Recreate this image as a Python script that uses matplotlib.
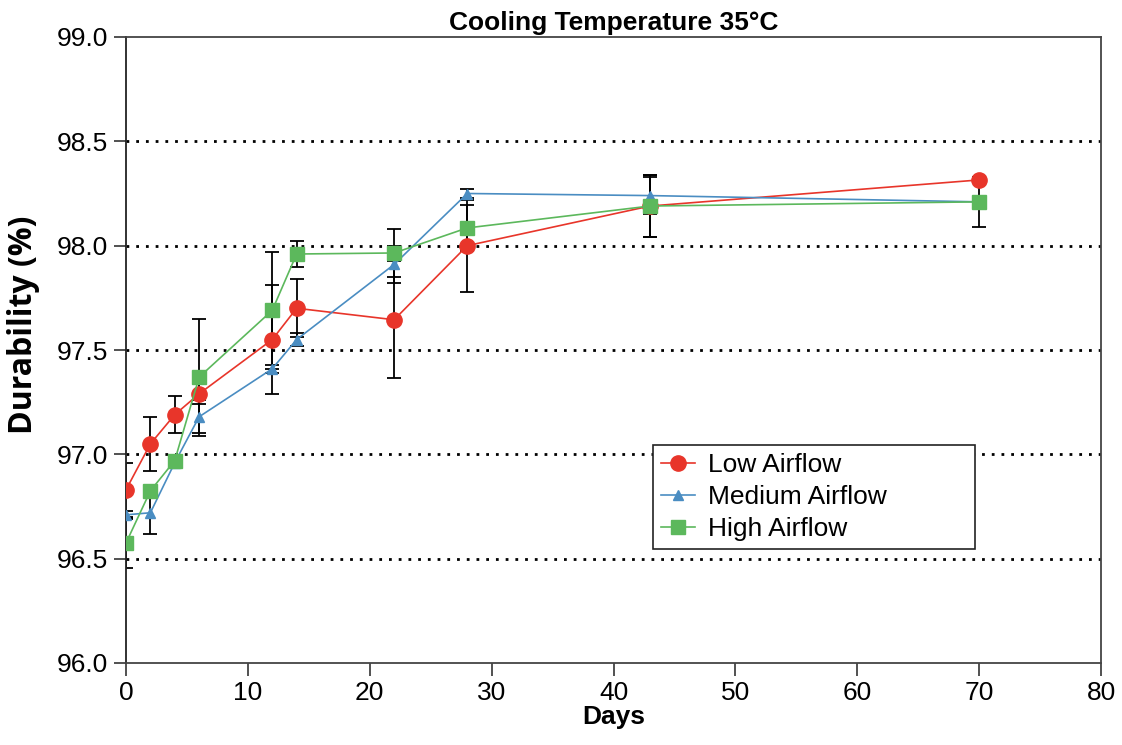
import matplotlib.pyplot as plt

plt.rcParams['font.family'] = ['Liberation Sans', 'DejaVu Sans']

days = [0, 2, 4, 6, 12, 14, 22, 28, 43, 70]

low = [96.83, 97.05, 97.19, 97.29, 97.55, 97.70, 97.645, 98.00, 98.19, 98.315]
low_err = [0.13, 0.13, 0.09, 0.05, 0.26, 0.14, 0.28, 0.22, 0.15, 0.01]

medium = [96.71, 96.72, 96.96, 97.18, 97.41, 97.55, 97.91, 98.25, 98.24, 98.21]
medium_err = [0.02, 0.10, 0.02, 0.08, 0.02, 0.03, 0.09, 0.02, 0.09, 0.01]

high = [96.575, 96.825, 96.97, 97.37, 97.69, 97.96, 97.965, 98.085, 98.19, 98.21]
high_err = [0.12, 0.02, 0.02, 0.28, 0.28, 0.06, 0.115, 0.11, 0.15, 0.12]

fig = plt.figure(figsize=(11.22, 7.45), dpi=100)
ax = fig.add_axes([126 / 1122, 1 - 663 / 745, (1101 - 126) / 1122, (663 - 37) / 745])

for yv in [96.5, 97.0, 97.5, 98.0, 98.5]:
    ax.axhline(yv, color='black', linestyle=(0, (1, 2.5)), linewidth=2, zorder=0)

series = [
    ('Low Airflow', low, low_err, '#e8352a', 'o', 11),
    ('Medium Airflow', medium, medium_err, '#4a8dc2', '^', 7),
    ('High Airflow', high, high_err, '#5cb85c', 's', 10),
]
for name, vals, errs, col, mk, ms in series:
    ax.errorbar(days, vals, yerr=errs, fmt='none', ecolor='black',
                elinewidth=1.3, capsize=5, capthick=1.3, zorder=2)
    ax.plot(days, vals, color=col, marker=mk, markersize=ms, linewidth=1.2,
            label=name, zorder=3)

ax.set_xlim(0, 80)
ax.set_ylim(96.0, 99.0)
ax.set_xticks(range(0, 81, 10))
ax.set_yticks([96.0, 96.5, 97.0, 97.5, 98.0, 98.5, 99.0])
ax.set_yticklabels([f'{v:.1f}' for v in [96.0, 96.5, 97.0, 97.5, 98.0, 98.5, 99.0]])
ax.tick_params(labelsize=19, length=9, width=1.2, direction='out', pad=4,
               color='#333333')
for side in ['top', 'right', 'left', 'bottom']:
    ax.spines[side].set_linewidth(1.3)
    ax.spines[side].set_color('#444444')
ax.spines['left'].set_color('#222222')

ax.set_xlabel('Days', fontsize=19, fontweight='bold', labelpad=0)
ax.set_ylabel('Durability (%)', fontsize=23, fontweight='bold',
              family=['Open Sans', 'DejaVu Sans'])
ax.yaxis.set_label_coords(-0.088, 0.54)
ax.set_title('Cooling Temperature 35°C', fontsize=19, fontweight='bold', pad=5)

leg = ax.legend(loc='lower left', bbox_to_anchor=(0.5405, 0.182, 0.330, 0.166),
                mode='expand', fontsize=19,
                frameon=True, fancybox=False, edgecolor='#222222', framealpha=1,
                handlelength=1.3, borderpad=0.3, labelspacing=0.3,
                handletextpad=0.5, borderaxespad=0)
leg.get_frame().set_linewidth(1.2)

plt.savefig('out.png', dpi=100)
